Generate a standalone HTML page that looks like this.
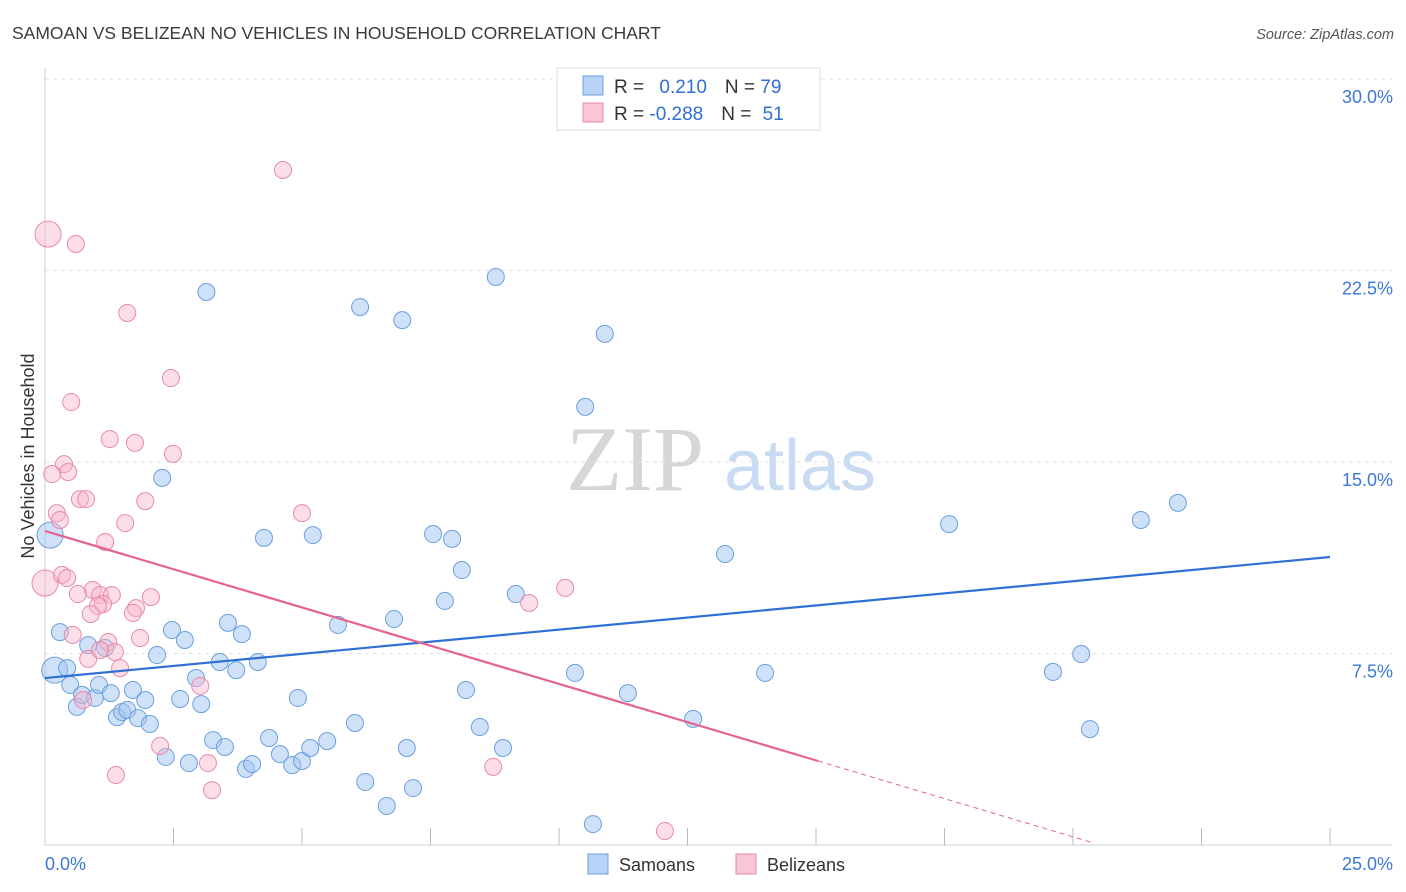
<!DOCTYPE html>
<html><head><meta charset="utf-8">
<style>
body{margin:0;background:#fff;font-family:"Liberation Sans",sans-serif;}
svg{display:block}
</style></head>
<body>
<svg id="chart" width="1406" height="892" viewBox="0 0 1406 892" xmlns="http://www.w3.org/2000/svg">
<text x="12" y="39" font-size="17.5" fill="#3b3b3b">SAMOAN VS BELIZEAN NO VEHICLES IN HOUSEHOLD CORRELATION CHART</text>
<text x="1394" y="39" font-size="14.5" fill="#555" text-anchor="end" font-style="italic">Source: ZipAtlas.com</text>
<g>
<text x="635" y="490" font-size="92" font-family="Liberation Serif,serif" fill="#d6d6d6" text-anchor="middle">ZIP</text>
<text x="800" y="490" font-size="72" fill="#c9dbf2" text-anchor="middle">atlas</text>
</g>
<g id="grid"></g>
<g id="axes"></g>
<g id="pts"></g>
<g id="trends"></g>
<text transform="translate(34,456) rotate(-90)" font-size="18" fill="#333" text-anchor="middle">No Vehicles in Household</text>
<g>
<rect x="557" y="68" width="263" height="62" fill="#fff" stroke="#ddd"/>
<rect x="583" y="76" width="20" height="19" fill="#b9d3f6" stroke="#6a9fe0"/>
<rect x="583" y="103" width="20" height="19" fill="#f8c6d6" stroke="#e98aaa"/>
<text x="614" y="93" font-size="19" fill="#333">R = <tspan fill="#2f6fd6" dx="10">0.210</tspan><tspan dx="18">N = </tspan><tspan fill="#2f6fd6">79</tspan></text>
<text x="614" y="120" font-size="19" fill="#333">R = <tspan fill="#2f6fd6">-0.288</tspan><tspan dx="18">N = </tspan><tspan fill="#2f6fd6" dx="6">51</tspan></text>
</g>
<g>
<rect x="588" y="854" width="20" height="20" fill="#b9d3f6" stroke="#6a9fe0"/>
<text x="619" y="871" font-size="18" fill="#333">Samoans</text>
<rect x="736" y="854" width="20" height="20" fill="#f8c6d6" stroke="#e98aaa"/>
<text x="767" y="871" font-size="18" fill="#333">Belizeans</text>
</g>
</svg>
<script>
const yTicks=[7.5,15,22.5,30];
const yTickLabels=["7.5%","15.0%","22.5%","30.0%"];
const xTicks=[0,2.5,5,7.5,10,12.5,15,17.5,20,22.5,25];
const samoanX=[0.19,0.43,0.29,0.49,0.62,0.72,0.84,0.97,1.05,1.17,1.28,1.40,1.50,1.60,1.71,1.81,1.95,2.04,2.18,2.28,2.35,2.47,2.63,2.72,2.80,2.94,3.04,3.14,3.27,3.40,3.50,3.56,3.72,3.83,3.91,4.03,4.14,4.26,4.36,4.57,4.81,4.92,5.00,5.16,5.21,5.49,5.70,6.03,6.13,6.23,6.65,6.79,6.95,7.04,7.16,7.55,7.78,7.92,8.11,8.19,8.46,8.77,8.91,9.16,10.31,10.51,10.66,10.89,11.34,12.61,13.23,14.01,17.59,19.61,20.16,20.33,21.32,22.04,0.10];
const samoanY=[6.85,6.93,8.34,6.27,5.41,5.88,7.83,5.76,6.27,7.72,5.95,5.01,5.21,5.29,6.07,4.97,5.68,4.74,7.44,14.38,3.45,8.42,5.72,8.03,3.21,6.54,5.52,21.66,4.11,7.17,3.84,8.70,6.85,8.26,2.98,3.17,7.17,12.03,4.19,3.56,3.13,5.76,3.29,3.80,12.14,4.07,8.62,4.78,21.07,2.47,1.53,8.85,20.56,3.80,2.23,12.18,9.56,11.99,10.77,6.07,4.62,22.25,3.80,9.83,6.74,17.16,0.82,20.02,5.95,4.94,11.40,6.74,12.57,6.78,7.48,4.54,12.73,13.40,12.14];
const belizeanX=[0.06,0.60,1.60,4.63,2.45,0.51,1.26,1.75,2.49,0.37,0.45,0.14,0.68,0.80,1.95,0.23,0.29,1.56,5.00,1.17,0.00,0.33,0.43,0.93,0.64,1.07,1.30,2.06,1.13,1.03,1.77,1.71,0.89,0.54,1.23,1.85,1.36,0.84,1.46,3.02,0.74,2.24,3.17,1.38,3.25,8.72,9.42,10.12,12.06,1.07];
const belizeanY=[23.93,23.54,20.84,26.44,18.29,17.35,15.90,15.75,15.32,14.92,14.61,14.53,13.55,13.55,13.47,13.00,12.73,12.61,13.00,11.87,10.26,10.58,10.46,9.99,9.83,9.79,9.79,9.71,9.44,9.36,9.28,9.09,9.05,8.23,7.95,8.11,7.56,7.29,6.93,6.23,5.68,3.88,3.21,2.74,2.15,3.06,9.48,10.07,0.55,7.64];
const samoanTrend=[6.54,11.28];
const belizeanTrend=[12.3,-0.288*0+3.29];
const belizeanSolidEnd=15.04, belizeanDashEnd=20.4;
const NS="http://www.w3.org/2000/svg";
const X=v=>45+v*51.4, Y=v=>845-v*25.53;
function mk(t,a,p){const e=document.createElementNS(NS,t);for(const k in a)e.setAttribute(k,a[k]);p.appendChild(e);return e;}
const grid=document.getElementById('grid'),axes=document.getElementById('axes');
yTicks.forEach((v,i)=>{
 const l=mk('line',{x1:45,x2:1392,y1:Y(v),y2:Y(v),stroke:'#e2e2e2','stroke-dasharray':'4,4'},grid);
 
 
 const t=mk('text',{x:1393,y:Y(v)+24,'font-size':18,fill:'#3b78d8','text-anchor':'end'},axes);
 t.textContent=yTickLabels[i];
 
 
});
mk('line',{x1:45,x2:45,y1:68,y2:845,stroke:'#ccc'},axes);
mk('line',{x1:45,x2:1392,y1:845,y2:845,stroke:'#ccc'},axes);
xTicks.slice(1).forEach(v=>{const l=mk('line',{x1:X(v),x2:X(v),y1:828,y2:845,stroke:'#bbb'},axes);
 
 });
const x0=mk('text',{x:45,y:870,'font-size':18,fill:'#3b78d8'},axes);x0.textContent='0.0%';
const x1=mk('text',{x:1393,y:870,'font-size':18,fill:'#3b78d8','text-anchor':'end'},axes);x1.textContent='25.0%';
const pts=document.getElementById('pts');
function big(x){return x<=0.2?13:8.5;}
samoanX.forEach((x,i)=>{const c=mk('circle',{cx:X(x),cy:Y(samoanY[i]),r:(x<=0.2?13:8.5),fill:'rgba(160,196,240,0.5)',stroke:'#6a9fe0','stroke-width':1},pts);
 
 });
belizeanX.forEach((x,i)=>{const c=mk('circle',{cx:X(x),cy:Y(belizeanY[i]),r:(x<=0.06?13:8.5),fill:'rgba(246,182,202,0.45)',stroke:'#e98aaa','stroke-width':1},pts);
 
 });
const tr=document.getElementById('trends');
const s=mk('line',{x1:X(0),y1:Y(samoanTrend[0]),x2:X(25),y2:Y(samoanTrend[1]),stroke:'#2f6fd6','stroke-width':2.2},tr);


const slope=(belizeanTrend[1]-belizeanTrend[0])/belizeanSolidEnd;
const b=mk('line',{x1:X(0),y1:Y(belizeanTrend[0]),x2:X(belizeanSolidEnd),y2:Y(belizeanTrend[1]),stroke:'#e4638f','stroke-width':2.2},tr);


const d=mk('line',{x1:X(belizeanSolidEnd),y1:Y(belizeanTrend[1]),x2:X(belizeanDashEnd),y2:Y(belizeanTrend[0]+slope*belizeanDashEnd),stroke:'#e4638f','stroke-width':1,'stroke-dasharray':'5,4'},tr);


</script>
</body></html>
